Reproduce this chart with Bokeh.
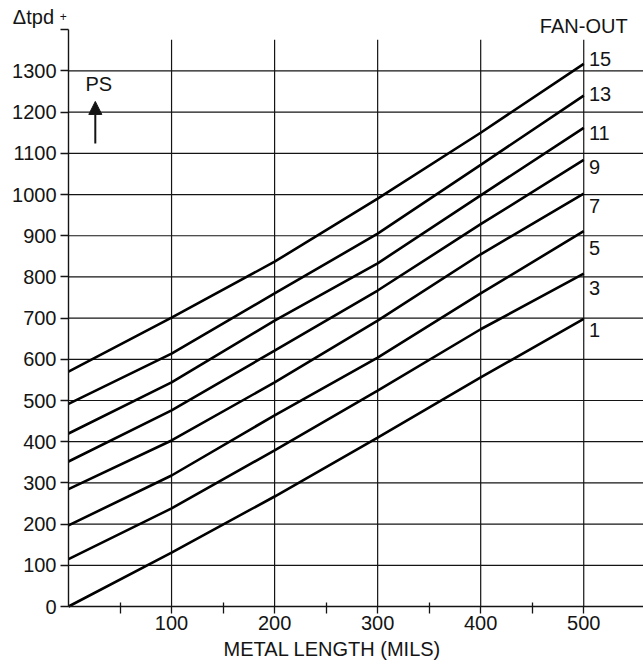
from bokeh.plotting import figure
from bokeh.models import (FixedTicker, Label, Arrow, NormalHead, Range1d,
                          ColumnDataSource)
from bokeh.core.properties import value
from bokeh.embed import file_html
from bokeh.resources import INLINE

# ---- data ----
metal_length = [0, 100, 200, 300, 400, 500]
fan_out_labels = ["15", "13", "11", "9", "7", "5", "3", "1"]
fo15 = [570, 701, 837, 990, 1150, 1317]
fo13 = [492, 614, 760, 905, 1072, 1240]
fo11 = [420, 544, 694, 833, 998, 1162]
fo9 = [352, 476, 621, 767, 928, 1084]
fo7 = [285, 403, 544, 694, 855, 1002]
fo5 = [197, 318, 464, 604, 760, 911]
fo3 = [115, 238, 379, 524, 673, 808]
fo1 = [0, 131, 267, 410, 556, 698]
series = [fo15, fo13, fo11, fo9, fo7, fo5, fo3, fo1]
label_y = [1328, 1245, 1150, 1068, 973, 871, 772, 670]

x_major = [100, 200, 300, 400, 500]
x_minor = [50, 150, 250, 350, 450]
y_ticks = list(range(0, 1500, 100))
y_grid = list(range(100, 1400, 100))

FONT = "Liberation Sans"
INK = "#141414"

# frame covers the whole canvas; axes are drawn at fixed data locations
p = figure(width=643, height=665, output_backend="svg", toolbar_location=None,
           x_range=Range1d(-66.0, 558), y_range=Range1d(-143.2, 1471),
           min_border_left=0, min_border_right=0, min_border_top=0,
           min_border_bottom=0)
p.outline_line_color = None
p.xgrid.visible = False
p.ygrid.visible = False
p.background_fill_color = "white"
p.border_fill_color = "white"

# grid lines
p.segment(x0=[0] * len(y_grid), y0=y_grid, x1=[558] * len(y_grid), y1=y_grid,
          line_color=INK, line_width=1.2)
p.segment(x0=x_major, y0=[0] * len(x_major), x1=x_major, y1=[1376] * len(x_major),
          line_color=INK, line_width=1.2)

# curves
for s in series:
    p.line(metal_length, s, line_color="black", line_width=2.6)

# right labels
src = ColumnDataSource(dict(x=[505] * len(fan_out_labels), y=label_y, t=fan_out_labels))
p.text(x="x", y="y", text="t", source=src, text_font=value(FONT),
       text_font_size="20px", text_align="left", text_baseline="middle",
       text_color=INK)

# axes
xa = p.xaxis[0]
xa.fixed_location = 0
xa.bounds = (0, 558)
xa.ticker = FixedTicker(ticks=x_major, minor_ticks=x_minor)
xa.major_tick_out = 7
xa.major_tick_in = 0
xa.minor_tick_out = 7
xa.minor_tick_in = 4
xa.major_tick_line_width = 1.3
xa.minor_tick_line_width = 1.3
xa.axis_line_width = 1.4
xa.axis_line_color = INK
xa.major_tick_line_color = INK
xa.minor_tick_line_color = INK
xa.major_label_text_font = FONT
xa.major_label_text_font_size = "20px"
xa.major_label_text_color = INK
xa.major_label_standoff = 2

ya = p.yaxis[0]
ya.fixed_location = 0
ya.ticker = FixedTicker(ticks=y_ticks, minor_ticks=[])
ya.bounds = (0, 1400)
ya.major_label_overrides = {1400: ""}
ya.major_tick_out = 8
ya.major_tick_in = 0
ya.major_tick_line_width = 1.3
ya.axis_line_width = 1.4
ya.axis_line_color = INK
ya.major_tick_line_color = INK
ya.major_label_text_font = FONT
ya.major_label_text_font_size = "20px"
ya.major_label_text_color = INK
ya.major_label_standoff = 4

# texts
p.add_layout(Label(x=256, y=-104, text="METAL LENGTH (MILS)", text_font=FONT,
                   text_font_size="20px", text_align="center",
                   text_baseline="middle", text_color=INK))
p.add_layout(Label(x=-54, y=1430, text="\u0394tpd", text_font=FONT,
                   text_font_size="20px", text_align="left",
                   text_baseline="middle", text_color=INK))
p.add_layout(Label(x=-5, y=1432, text="+", text_font=FONT,
                   text_font_size="12px", text_align="center",
                   text_baseline="middle", text_color=INK))
p.add_layout(Label(x=500, y=1408, text="FAN-OUT", text_font=FONT,
                   text_font_size="20px", text_align="center",
                   text_baseline="middle", text_color=INK))
p.add_layout(Label(x=16.5, y=1269, text="PS", text_font=FONT,
                   text_font_size="20px", text_align="left",
                   text_baseline="middle", text_color=INK))
p.add_layout(Arrow(end=NormalHead(size=13, fill_color=INK, line_color=INK),
                   x_start=26, y_start=1124, x_end=26, y_end=1226,
                   line_width=2, line_color=INK))

open("out.html", "w").write(file_html(p, INLINE))
